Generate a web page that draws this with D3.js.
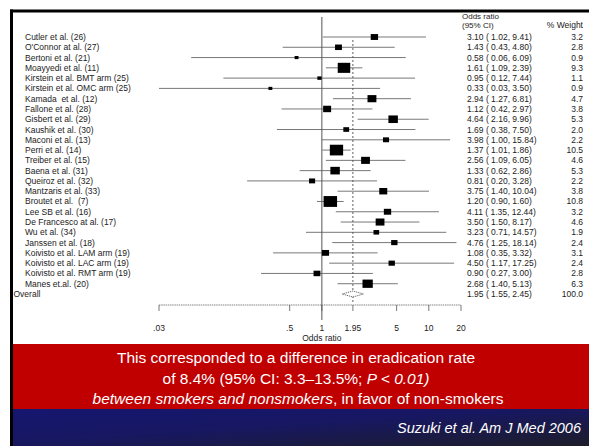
<!DOCTYPE html>
<meta charset="utf-8">
<head>
  <script src="https://d3js.org/d3.v7.min.js"></script>
  <style>
    body { margin: 0; background: #fff; }
    text { font-family: "Liberation Sans", Arial, sans-serif; }
  </style>
</head>
<body>
  <svg id="chart"></svg>

  <script>
    // ---------- data ----------
    var studies = ["Cutler et al. (26)", "O'Connor at al. (27)", "Bertoni et al. (21)", "Moayyedi et al. (11)",
      "Kirstein et al. BMT arm (25)", "Kirstein et al. OMC arm (25)", "Kamada  et al. (12)", "Fallone et al. (28)",
      "Gisbert et al. (29)", "Kaushik et al. (30)", "Maconi et al. (13)", "Perri et al. (14)", "Treiber et al. (15)",
      "Baena et al. (31)", "Queiroz et al. (32)", "Mantzaris et al. (33)", "Broutet et al.  (7)", "Lee SB et al. (16)",
      "De Francesco at al. (17)", "Wu et al. (34)", "Janssen et al. (18)", "Koivisto et al. LAM arm (19)",
      "Koivisto et al. LAC arm (19)", "Koivisto et al. RMT arm (19)", "Manes et.al. (20)"]
    var oddsRatio = [3.10, 1.43, 0.58, 1.61, 0.95, 0.33, 2.94, 1.12, 4.64, 1.69, 3.98, 1.37, 2.56,
      1.33, 0.81, 3.75, 1.20, 4.11, 3.50, 3.23, 4.76, 1.08, 4.50, 0.90, 2.68]
    var ciLow = [1.02, 0.43, 0.06, 1.09, 0.12, 0.03, 1.27, 0.42, 2.16, 0.38, 1.00, 1.01, 1.09,
      0.62, 0.20, 1.40, 0.90, 1.35, 1.50, 0.71, 1.25, 0.35, 1.17, 0.27, 1.40]
    var ciHigh = [9.41, 4.80, 6.09, 2.39, 7.44, 3.50, 6.81, 2.97, 9.96, 7.50, 15.84, 1.86, 6.05,
      2.86, 3.28, 10.04, 1.60, 12.44, 8.17, 14.57, 18.14, 3.32, 17.25, 3.00, 5.13]
    var weights = [3.2, 2.8, 0.9, 9.3, 1.1, 0.9, 4.7, 3.8, 5.3, 2.0, 2.2, 10.5, 4.6,
      5.3, 2.2, 3.8, 10.8, 3.2, 4.6, 1.9, 2.4, 3.1, 2.4, 2.8, 6.3]
    var overall = {label: "Overall", or: 1.95, lo: 1.55, hi: 2.45, weight: 100.0}
    var tickValues = [0.03, 0.5, 1, 1.95, 5, 10, 20]
    var tickLabels = [".03", ".5", "1", "1.95", "5", "10", "20"]

    var W = 589, H = 446

    var svg = d3.select("#chart").attr("width", W).attr("height", H)

    // log scale for odds ratio
    var x = d3.scaleLog().domain([0.03, 20]).range([159, 461])
    // rows: the 25 studies + overall
    var rowNames = studies.concat([overall.label])
    var y = d3.scalePoint().domain(d3.range(rowNames.length)).range([37, 294])

    var fmt = function(v) { return v.toFixed(2) }

    // ---------- frame / bands ----------
    var defs = svg.append("defs")
    var grad = defs.append("linearGradient").attr("id", "blueband")
      .attr("x1", "0%").attr("x2", "100%").attr("y1", "0%").attr("y2", "100%")
    grad.append("stop").attr("offset", "0%").attr("stop-color", "#15166f")
    grad.append("stop").attr("offset", "45%").attr("stop-color", "#171762")
    grad.append("stop").attr("offset", "100%").attr("stop-color", "#1d1d2a")

    svg.append("rect").attr("x", 12).attr("y", 344).attr("width", W - 12).attr("height", 65).attr("fill", "#c00000")
    svg.append("rect").attr("x", 12).attr("y", 409).attr("width", W - 12).attr("height", H - 409).attr("fill", "url(#blueband)")
    svg.append("rect").attr("x", 10).attr("y", 9.5).attr("width", W - 10).attr("height", 3).attr("fill", "#000")
    svg.append("rect").attr("x", 10).attr("y", 9.5).attr("width", 3).attr("height", H - 9.5).attr("fill", "#000")

    var plot = svg.append("g")

    // reference lines
    plot.append("line")
      .attr("x1", x(1)).attr("x2", x(1)).attr("y1", 17).attr("y2", 320)
      .attr("stroke", "#555").attr("stroke-width", 1)
    plot.append("line")
      .attr("x1", x(overall.or)).attr("x2", x(overall.or)).attr("y1", 40).attr("y2", 302)
      .attr("stroke", "#333").attr("stroke-width", 0.8).attr("stroke-dasharray", "2,2")

    // confidence intervals
    plot.selectAll(".ci")
      .data(studies)
      .enter().append("line")
      .attr("class", "ci")
      .attr("x1", function(d, i) { return x(ciLow[i]) })
      .attr("x2", function(d, i) { return x(ciHigh[i]) })
      .attr("y1", function(d, i) { return y(i) })
      .attr("y2", function(d, i) { return y(i) })
      .attr("stroke", "#555").attr("stroke-width", 0.8)

    // weight squares (area ~ weight)
    plot.selectAll(".box")
      .data(studies)
      .enter().append("rect")
      .attr("class", "box")
      .attr("x", function(d, i) { return x(oddsRatio[i]) - 2.05 * Math.sqrt(weights[i]) })
      .attr("y", function(d, i) { return y(i) - 1.65 * Math.sqrt(weights[i]) })
      .attr("width", function(d, i) { return 4.1 * Math.sqrt(weights[i]) })
      .attr("height", function(d, i) { return 3.3 * Math.sqrt(weights[i]) })
      .attr("fill", "#000")

    // overall diamond
    var oy = y(rowNames.length - 1)
    plot.append("path")
      .attr("d", "M" + x(overall.lo) + "," + oy + "L" + x(overall.or) + "," + (oy - 3) +
        "L" + x(overall.hi) + "," + oy + "L" + x(overall.or) + "," + (oy + 3) + "Z")
      .attr("fill", "#fff").attr("stroke", "#444").attr("stroke-width", 0.8)
      .attr("stroke-dasharray", "1.2,0.8")

    // x axis
    var axis = plot.append("g").attr("transform", "translate(0,305)")
    axis.append("line")
      .attr("x1", x(0.03)).attr("x2", x(20)).attr("y1", 0).attr("y2", 0)
      .attr("stroke", "#666").attr("stroke-width", 0.8).attr("stroke-dasharray", "1.5,0.7")
    axis.selectAll(".tick")
      .data(tickValues)
      .enter().append("line")
      .attr("class", "tick")
      .attr("x1", function(d) { return x(d) }).attr("x2", function(d) { return x(d) })
      .attr("y1", 0).attr("y2", 6)
      .attr("stroke", "#555").attr("stroke-width", 0.8)
    axis.selectAll(".ticklab")
      .data(tickValues)
      .enter().append("text")
      .attr("class", "ticklab")
      .attr("x", function(d) { return x(d) })
      .attr("y", 26)
      .attr("text-anchor", "middle")
      .attr("font-size", 8.5).attr("fill", "#222")
      .text(function(d, i) { return tickLabels[i] })
    axis.append("text")
      .attr("x", x(1)).attr("y", 36)
      .attr("text-anchor", "middle")
      .attr("font-size", 8.5).attr("fill", "#222")
      .text("Odds ratio")

    // row labels
    plot.selectAll(".lab")
      .data(rowNames)
      .enter().append("text")
      .attr("class", "lab")
      .attr("x", function(d, i) { return i == rowNames.length - 1 ? 13.5 : 25 })
      .attr("y", function(d, i) { return y(i) + 3 })
      .attr("font-size", 8.5).attr("fill", "#222")
      .style("white-space", "pre")
      .text(function(d) { return d })

    // odds ratio column + weight column
    var orText = studies.map(function(d, i) {
      return fmt(oddsRatio[i]) + " ( " + fmt(ciLow[i]) + ", " + fmt(ciHigh[i]) + ")"
    }).concat([fmt(overall.or) + " ( " + fmt(overall.lo) + ", " + fmt(overall.hi) + ")"])
    var wText = weights.map(function(w) { return w.toFixed(1) }).concat([overall.weight.toFixed(1)])

    plot.selectAll(".ortxt")
      .data(orText)
      .enter().append("text")
      .attr("class", "ortxt")
      .attr("x", 467).attr("y", function(d, i) { return y(i) + 3 })
      .attr("font-size", 8.5).attr("fill", "#222")
      .text(function(d) { return d })
    plot.selectAll(".wtxt")
      .data(wText)
      .enter().append("text")
      .attr("class", "wtxt")
      .attr("x", 583).attr("y", function(d, i) { return y(i) + 3 })
      .attr("text-anchor", "end")
      .attr("font-size", 8.5).attr("fill", "#222")
      .text(function(d) { return d })

    // column headers
    plot.append("text").attr("x", 462).attr("y", 19).attr("font-size", 8).attr("fill", "#222").text("Odds ratio")
    plot.append("text").attr("x", 462).attr("y", 28).attr("font-size", 8).attr("fill", "#222").text("(95% CI)")
    plot.append("text").attr("x", 583).attr("y", 28).attr("text-anchor", "end").attr("font-size", 8.5).attr("fill", "#222").text("% Weight")

    // ---------- caption in the red band ----------
    var cap = svg.append("g").attr("fill", "#fff").attr("font-size", 15.5).attr("text-anchor", "middle")
    cap.append("text").attr("x", 296).attr("y", 363).text("This corresponded to a difference in eradication rate")
    var l2 = cap.append("text").attr("x", 296).attr("y", 384)
    l2.append("tspan").text("of 8.4% (95% CI: 3.3\u201313.5%; ")
    l2.append("tspan").attr("font-style", "italic").text("P < 0.01)")
    var l3 = cap.append("text").attr("x", 298).attr("y", 404)
    l3.append("tspan").attr("font-style", "italic").text("between smokers and nonsmokers")
    l3.append("tspan").text(", in favor of non-smokers")

    svg.append("text").attr("x", 581).attr("y", 433)
      .attr("text-anchor", "end").attr("fill", "#fff")
      .attr("font-size", 14.5).attr("font-style", "italic")
      .text("Suzuki et al. Am J Med 2006")
  </script>
</body>
